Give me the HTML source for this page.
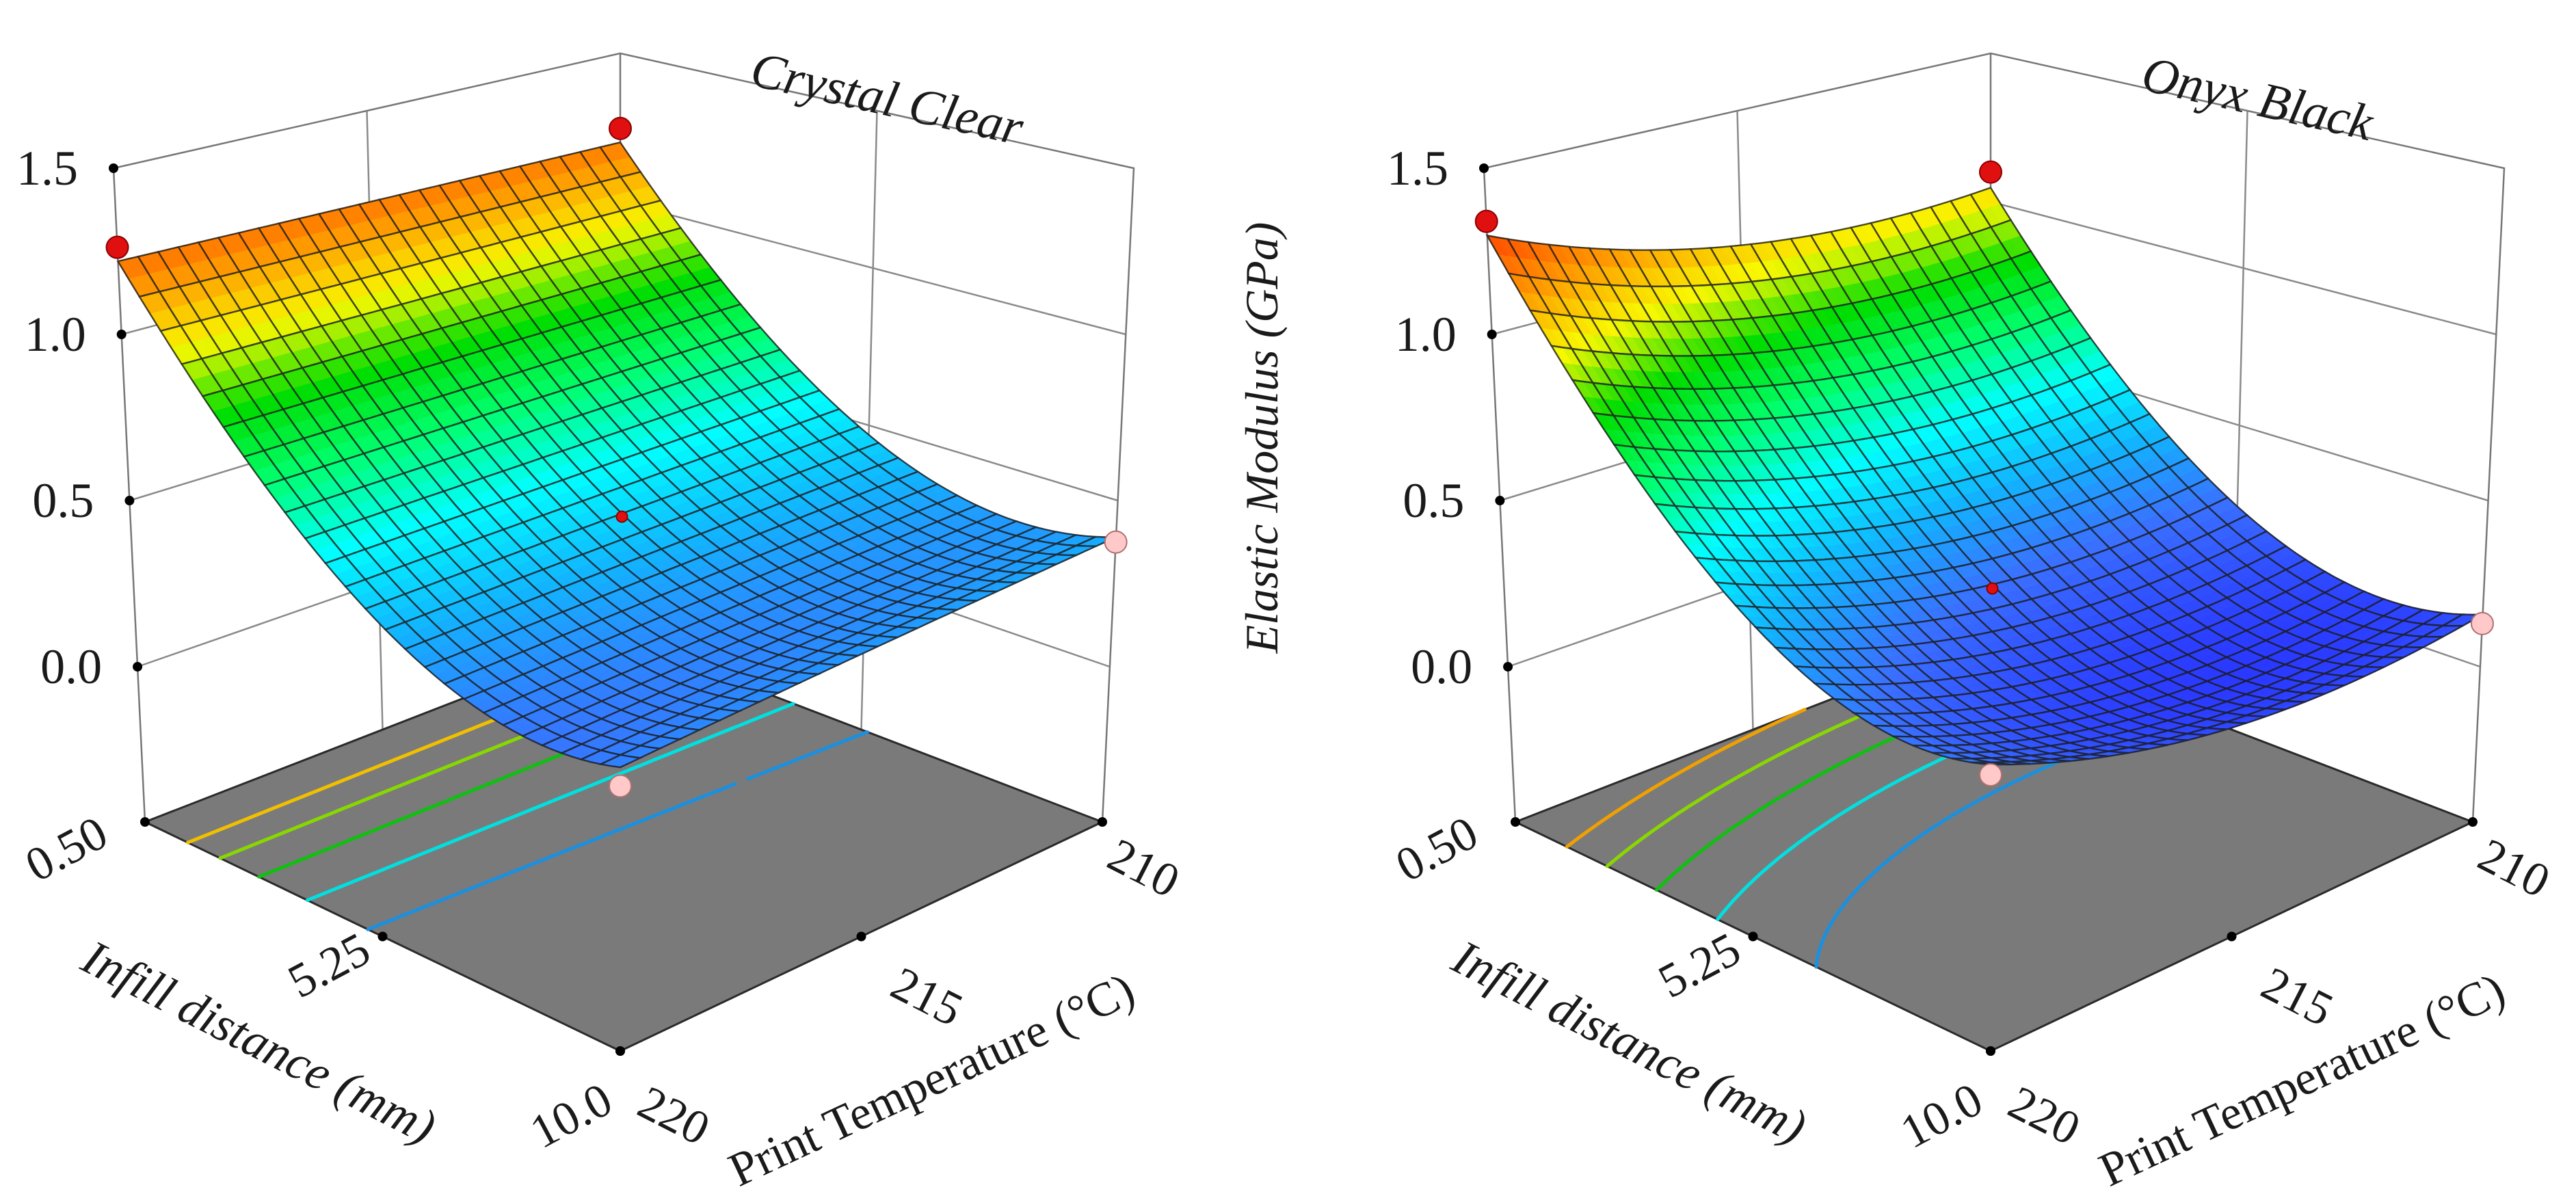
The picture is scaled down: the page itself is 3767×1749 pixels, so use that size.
<!DOCTYPE html>
<html><head><meta charset="utf-8"><title>Elastic modulus response surfaces</title>
<style>
html,body{margin:0;padding:0;background:#fff;}
svg{display:block;}
text{font-family:"Liberation Serif",serif;fill:#1a1a1a;}
</style></head>
<body>
<svg id="chart" xmlns="http://www.w3.org/2000/svg" width="3767" height="1749" viewBox="0 0 3767 1749">
<rect x="0" y="0" width="3767" height="1749" fill="#fff"/>
</svg>
<script>
// ---- data ----
const infillTicks = [0.5, 5.25, 10.0];
const infillLabels = ['0.50', '5.25', '10.0'];
const tempTicks = [220, 215, 210];
const tempLabels = ['220', '215', '210'];
const zTicks = [0.0, 0.5, 1.0, 1.5];
const zLabels = ['0.0', '0.5', '1.0', '1.5'];
const zRange = [-0.467, 1.5];
// quadratic model coefficients (coded units): [c0, cA(infill), cB(temp), cAB, cAA, cBB]
const coefCrystal = [0.45, -0.435, -0.02, -0.03, 0.325, 0.0];
const coefOnyx = [0.24, -0.4725, 0.0975, -0.0275, 0.36, 0.1];
// contour levels on the floor
const levelsCrystal = [1.03, 0.90, 0.76, 0.61, 0.46];
const levelsOnyx = [1.05, 0.88, 0.70, 0.52, 0.33];
// design points: infill, temperature, modulus
const ptsCrystalInfill = [0.5, 0.5, 10, 10, 5.25];
const ptsCrystalTemp = [220, 210, 210, 220, 215];
const ptsCrystalValue = [1.262, 1.247, 0.375, 0.24, 0.48];
const ptsOnyxInfill = [0.5, 0.5, 10, 10, 5.25];
const ptsOnyxTemp = [220, 210, 210, 220, 215];
const ptsOnyxValue = [1.34, 1.10, 0.13, 0.27, 0.265];

// ---- styling ----
const colorStopZ = [0.0, 0.25, 0.4, 0.55, 0.7, 0.85, 1.0, 1.15, 1.32];
const colorStopC = ['#2424ff','#3a70ff','#12b4ff','#00ffff','#00ff70','#00dd00','#f8f800','#ff9800','#ff3800'];
const contourColors = ['#f0c000','#88d800','#10c010','#00e0e0','#1a90e0'];
const contourColorsOnyx = ['#f0a000','#88d800','#10c010','#00e0e0','#1a90e0'];

const NS = 'http://www.w3.org/2000/svg';
const svg = document.getElementById('chart');
function mk(tag, parent, attrs) {
  const e = document.createElementNS(NS, tag);
  for (const k in attrs) e.setAttribute(k, attrs[k]);
  parent.appendChild(e);
  return e;
}
function hex2rgb(h){return [parseInt(h.substr(1,2),16),parseInt(h.substr(3,2),16),parseInt(h.substr(5,2),16)];}
function colorFor(z){
  if (z <= colorStopZ[0]) return colorStopC[0];
  for (let i=1;i<colorStopZ.length;i++){
    if (z <= colorStopZ[i]){
      const f=(z-colorStopZ[i-1])/(colorStopZ[i]-colorStopZ[i-1]);
      const a=hex2rgb(colorStopC[i-1]), b=hex2rgb(colorStopC[i]);
      return 'rgb('+a.map((v,j)=>Math.round(v+(b[j]-v)*f)).join(',')+')';
    }
  }
  return colorStopC[colorStopC.length-1];
}

const floorBk=[907,932], floorL=[212,1202], floorF=[907,1537], floorR=[1612,1202];
const topBk=[907,78], topL=[166,246], topF=[907,459], topR=[1658,246];

function makePanel(ox, coef, levels, lcolors, pInf, pTemp, pVal, title, key) {
  const g = mk('g', svg, {});
  
  
  const sOf = v => (v - infillTicks[0]) / (infillTicks[2] - infillTicks[0]);
  const tOf = v => (v - 210) / 10;
  const bil = (P,s,t) => [
    P[0][0]*(1-s)*(1-t) + P[1][0]*(1-s)*t + P[2][0]*s*t + P[3][0]*s*(1-t),
    P[0][1]*(1-s)*(1-t) + P[1][1]*(1-s)*t + P[2][1]*s*t + P[3][1]*s*(1-t)];
  const FL=[floorBk,floorL,floorF,floorR], TP=[topBk,topL,topF,topR];
  function proj(s,t,z){
    const w=(z-zRange[0])/(zRange[1]-zRange[0]);
    const a=bil(FL,s,t), b=bil(TP,s,t);
    return [ox + a[0]*(1-w)+b[0]*w, a[1]*(1-w)+b[1]*w];
  }
  function model(s,t){
    const A=2*s-1, B=2*t-1;
    return coef[0]+coef[1]*A+coef[2]*B+coef[3]*A*B+coef[4]*A*A+coef[5]*B*B;
  }
  const P = p => p[0].toFixed(1)+','+p[1].toFixed(1);
  const zf = zRange[0], zt = zRange[1];

  const walls = mk('g', g, {stroke:'#8a8a8a','stroke-width':2.5,fill:'none'});
  
  
  zTicks.slice(0,3).forEach(z=>{
    const l1 = mk('path', walls, {d:'M'+P(proj(0,1,z))+'L'+P(proj(0,0,z))+'L'+P(proj(1,0,z))});
    
    
  });
  const v1 = mk('path', walls, {d:'M'+P(proj(0,0.5,zf))+'L'+P(proj(0,0.5,zt))+'M'+P(proj(0.5,0,zf))+'L'+P(proj(0.5,0,zt))});
  
  
  const edges = mk('path', walls, {d:'M'+P(proj(0,1,zf))+'L'+P(proj(0,1,zt))+'L'+P(proj(0,0,zt))+'L'+P(proj(1,0,zt))+'L'+P(proj(1,0,zf))+'M'+P(proj(0,0,zf))+'L'+P(proj(0,0,zt)), stroke:'#777'});
  
  

  const floor = mk('polygon', g, {points:[proj(0,0,zf),proj(0,1,zf),proj(1,1,zf),proj(1,0,zf)].map(P).join(' '), fill:'#7a7a7a', stroke:'#2a2a2a','stroke-width':3});
  
  

  const N=80;
  levels.forEach((lv,li)=>{
    let d='';
    for(let i=0;i<N;i++)for(let j=0;j<N;j++){
      const s0=i/N,s1=(i+1)/N,t0=j/N,t1=(j+1)/N;
      const c=[[s0,t0],[s1,t0],[s1,t1],[s0,t1]];
      const v=c.map(q=>model(q[0],q[1]));
      const pts=[];
      for(let k=0;k<4;k++){
        const a=v[k],b=v[(k+1)%4];
        if((a-lv)*(b-lv)<0){
          const f=(lv-a)/(b-a);
          const q1=c[k],q2=c[(k+1)%4];
          pts.push([q1[0]+(q2[0]-q1[0])*f,q1[1]+(q2[1]-q1[1])*f]);
        }
      }
      for(let k=0;k+1<pts.length;k+=2){
        d+='M'+P(proj(pts[k][0],pts[k][1],zf))+'L'+P(proj(pts[k+1][0],pts[k+1][1],zf));
      }
    }
    const cp = mk('path', g, {d:d, stroke:lcolors[li], 'stroke-width':5, fill:'none','stroke-linecap':'round'});
    
    
  });

  const tk = mk('g', g, {fill:'#000'});
  
  
  zTicks.forEach(z=>{ const p=proj(0,1,z); mk('circle',tk,{cx:p[0],cy:p[1],r:7}); });
  infillTicks.forEach(v=>{ const p=proj(sOf(v),1,zf); mk('circle',tk,{cx:p[0],cy:p[1],r:7}); });
  tempTicks.forEach(v=>{ const p=proj(1,tOf(v),zf); mk('circle',tk,{cx:p[0],cy:p[1],r:7}); });

  const M=25, sub=2;
  const surf = mk('g', g, {});
  
  
  const cells=[];
  for(let i=0;i<M;i++)for(let j=0;j<M;j++)cells.push([i,j]);
  cells.sort((a,b)=>(a[0]+a[1])-(b[0]+b[1]));
  const sp=(s,t)=>proj(s,t,model(s,t));
  cells.forEach(([i,j])=>{
    for(let a=0;a<sub;a++)for(let b=0;b<sub;b++){
      const s0=(i+a/sub)/M,s1=(i+(a+1)/sub)/M,t0=(j+b/sub)/M,t1=(j+(b+1)/sub)/M;
      const col=colorFor(model((s0+s1)/2,(t0+t1)/2));
      mk('polygon',surf,{points:[sp(s0,t0),sp(s1,t0),sp(s1,t1),sp(s0,t1)].map(P).join(' '),fill:col,stroke:col,'stroke-width':1.2});
    }
    const s0=i/M,s1=(i+1)/M,t0=j/M,t1=(j+1)/M,sm=(s0+s1)/2,tm=(t0+t1)/2;
    mk('path',surf,{d:'M'+[sp(s0,t0),sp(sm,t0),sp(s1,t0),sp(s1,tm),sp(s1,t1),sp(sm,t1),sp(s0,t1),sp(s0,tm)].map(P).join('L')+'Z',fill:'none',stroke:'#1c1c1c','stroke-opacity':0.8,'stroke-width':2.4});
  });

  pVal.forEach((v,k)=>{
    const s=sOf(pInf[k]), t=tOf(pTemp[k]);
    const above = v >= model(s,t);
    const p=proj(s,t,v);
    const center = (s>0.01 && s<0.99);
    const c = mk('circle', g, {cx:p[0],cy:p[1],r:center?8:16,fill:above?'#e01010':'#ffc9c9',stroke:above?'#8a0000':'#b07070','stroke-width':2});
    
    
  });

  zLabels.forEach((lab,k)=>{
    const p=proj(0,1,zTicks[k]);
    const t=mk('text',g,{x:p[0]-52,y:p[1]+24,'font-size':72,'text-anchor':'end'});
    t.textContent=lab;
    
    
  });
  const infPos=[[108,1262],[492,1432],[846,1652]];
  infillLabels.forEach((lab,k)=>{
    const t=mk('text',g,{x:ox+infPos[k][0],y:infPos[k][1],'font-size':70,'text-anchor':'middle',transform:'rotate(-28 '+(ox+infPos[k][0])+' '+infPos[k][1]+')'});
    t.textContent=lab;
    
    
  });
  const tmpPos=[[975,1652],[1345,1478],[1662,1290]];
  tempLabels.forEach((lab,k)=>{
    const t=mk('text',g,{x:ox+tmpPos[k][0],y:tmpPos[k][1],'font-size':70,'text-anchor':'middle',transform:'rotate(27 '+(ox+tmpPos[k][0])+' '+tmpPos[k][1]+')'});
    t.textContent=lab;
    
    
  });
  const xt=mk('text',g,{x:ox+368,y:1545,'font-size':72,'font-style':'italic','text-anchor':'middle',transform:'rotate(27 '+(ox+368)+' 1545)'});
  xt.textContent='Infill distance (mm)';
  
  
  const yt=mk('text',g,{x:ox+1372,y:1600,'font-size':70,'text-anchor':'middle',transform:'rotate(-25 '+(ox+1372)+' 1600)'});
  yt.textContent='Print Temperature (\u00B0C)';
  
  
  const tt=mk('text',g,{x:ox+1292,y:168,'font-size':74,'font-style':'italic','text-anchor':'middle',transform:'rotate(12.6 '+(ox+1292)+' 168)'});
  tt.textContent=title;
  
  
}

makePanel(0, coefCrystal, levelsCrystal, contourColors, ptsCrystalInfill, ptsCrystalTemp, ptsCrystalValue, 'Crystal Clear', 'crystal-clear');
makePanel(2004, coefOnyx, levelsOnyx, contourColorsOnyx, ptsOnyxInfill, ptsOnyxTemp, ptsOnyxValue, 'Onyx Black', 'onyx-black');

const ylab = mk('text', svg, {x:1868,y:640,'font-size':68,'font-style':'italic','text-anchor':'middle',transform:'rotate(-90 1868 640)'});
ylab.textContent='Elastic Modulus (GPa)';


</script>
</body></html>
